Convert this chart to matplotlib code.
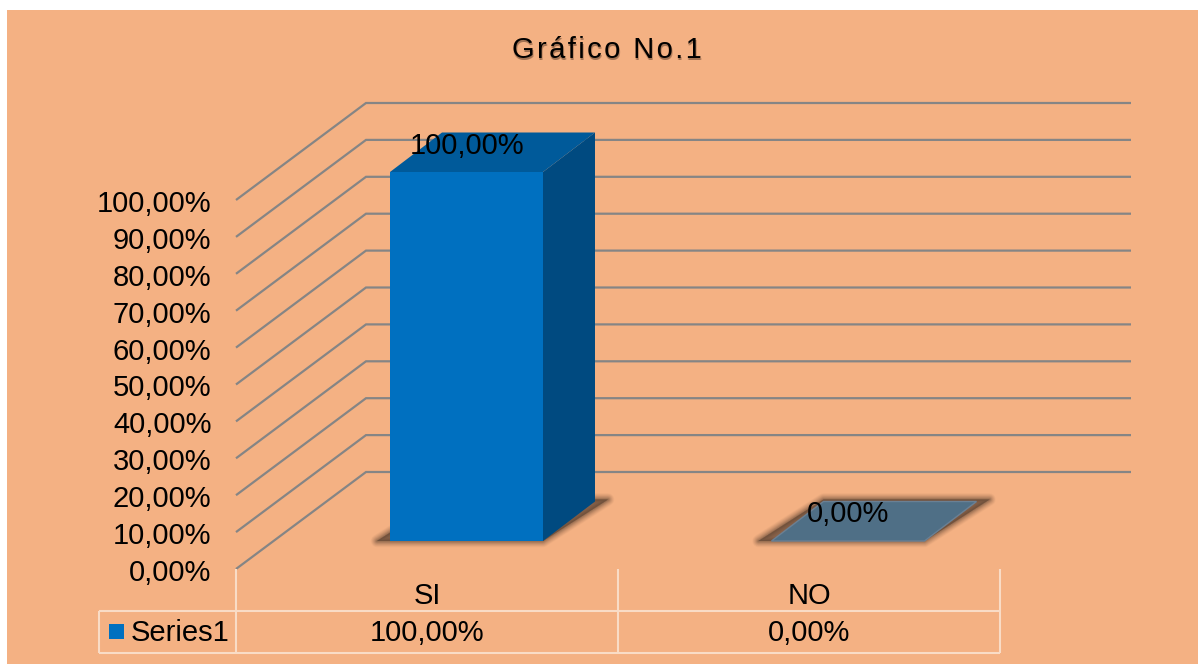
import matplotlib
matplotlib.use("Agg")
import matplotlib.pyplot as plt
from matplotlib.patches import Polygon, Rectangle

plt.rcParams['font.family'] = ['Liberation Sans', 'DejaVu Sans']

# ---- data ----
categories = ["SI", "NO"]
series_name = "Series1"
values = [100.0, 0.0]
value_labels = ["100,00%", "0,00%"]
y_ticks = [0, 10, 20, 30, 40, 50, 60, 70, 80, 90, 100]
y_tick_labels = ["0,00%", "10,00%", "20,00%", "30,00%", "40,00%", "50,00%",
                 "60,00%", "70,00%", "80,00%", "90,00%", "100,00%"]
title = "Gráfico No.1"

# ---- scales (pixels per data unit) ----
W, H = 1198, 664
PX_X = 381.5        # pixels per category
PX_Y = 3.69         # pixels per percent
X0_PX, Y0_PX = 427.5, 569.0   # pixel of category 0 / value 0 on the front plane

BG = "#F4B183"
GRID = "#858585"
TABLE = "#F9DCC6"
FS = 21

def dx(px):
    return px / PX_X

def dy(px):
    return px / PX_Y

fig = plt.figure(figsize=(W / 100, H / 100), dpi=100, facecolor="white")
ax = fig.add_axes([0, 0, 1, 1])
ax.set_xlim(-X0_PX / PX_X, (W - X0_PX) / PX_X)
ax.set_ylim(-(H - Y0_PX) / PX_Y, Y0_PX / PX_Y)
ax.axis("off")

def xp(px):   # pixel x -> data x
    return (px - X0_PX) / PX_X

def yp(py):   # pixel y -> data y
    return (Y0_PX - py) / PX_Y

# chart background with the white margin of the picture
ax.add_patch(Rectangle((xp(7), yp(664)), dx(1191), dy(654), fc=BG, ec="none", zorder=0))

# oblique gridlines
back_dx, back_dy = dx(130), dy(97)
x_left = xp(236)
x_right = xp(1131)
for t, lab in zip(y_ticks, y_tick_labels):
    ax.plot([x_left, x_left + back_dx, x_right], [t, t + back_dy, t + back_dy],
            color=GRID, lw=1.6, zorder=1, solid_joinstyle="miter", solid_capstyle="butt")
    ax.text(xp(211.5), t - dy(12), lab, ha="right", va="baseline",
            fontsize=FS, color="#000000", zorder=6)

# bars
bar_w = dx(153)
off_x, off_y = dx(39), dy(28)    # bar front plane offset in depth
dep_x, dep_y = dx(52), dy(39.5)  # bar depth

for i, v in enumerate(values):
    cx = i + off_x
    l, r = cx - bar_w / 2, cx + bar_w / 2
    b = off_y
    t = v + off_y
    floor = [(l, b), (r, b), (r + dep_x, b + dep_y), (l + dep_x, b + dep_y)]
    shadow = [(l - dx(13), b), (r, b), (r + dep_x + dx(13), b + dep_y + dy(2)), (l + dep_x, b + dep_y + dy(2))]
    widths = [9, 8, 7, 6, 5, 4, 3, 2, 1, 0]
    alphas = [0.04, 0.05, 0.06, 0.07, 0.08, 0.10, 0.12, 0.14, 0.16, 0.20]
    for w, a in zip(widths, alphas):
        ax.add_patch(Polygon(shadow, closed=True, fc="#5F4534", ec="#5F4534", lw=w, alpha=a,
                             joinstyle="round", zorder=2))
    if v > 0:
        ax.add_patch(Rectangle((l, b), bar_w, t - b, fc="#0070C0", ec="none", zorder=4))
        ax.add_patch(Polygon([(r, b), (r + dep_x, b + dep_y), (r + dep_x, t + dep_y), (r, t)],
                             closed=True, fc="#004A80", ec="none", zorder=4))
        ax.add_patch(Polygon([(l, t), (r, t), (r + dep_x, t + dep_y), (l + dep_x, t + dep_y)],
                             closed=True, fc="#005A9A", ec="none", zorder=4))
    else:
        ax.add_patch(Polygon(floor, closed=True, fc="#4F6F86", ec="#6A8094", lw=1, zorder=4))

# data labels
label_px = [(467, 146), (848, 513.5)]
for s, (px, py) in zip(value_labels, label_px):
    ax.text(xp(px), yp(py), s, ha="center", va="center", fontsize=FS, color="#000000", zorder=7)

# data table
tl = dict(color=TABLE, lw=1.5, zorder=3, solid_capstyle="butt")
for px in (236, 618, 1000):
    ax.plot([xp(px), xp(px)], [yp(569), yp(653)], **tl)
ax.plot([xp(99), xp(99)], [yp(611), yp(653)], **tl)
for py in (611, 653):
    ax.plot([xp(99), xp(1000)], [yp(py), yp(py)], **tl)
for i, c in enumerate(categories):
    ax.text(i, yp(596), c, ha="center", va="center", fontsize=FS, color="#000000")
    ax.text(i, yp(633), value_labels[i], ha="center", va="center", fontsize=FS, color="#000000")
ax.add_patch(Rectangle((xp(109), yp(639)), dx(15), dy(15), fc="#0070C0", ec="none", zorder=5))
ax.text(xp(131), yp(633), series_name, ha="left", va="center", fontsize=FS, color="#000000")

# title, letter spaced, with a soft shadow
spaced = "\u200a".join(title)
title_y = 50.5
for ox, oy, a in [(1.5, 2, 0.15), (1, 1.5, 0.2), (0.5, 1, 0.25)]:
    ax.text(xp(606.5 + ox), yp(title_y + oy), spaced, ha="center", va="center",
            fontsize=FS, color="#4A3020", alpha=a, zorder=6)
ax.text(xp(606.5), yp(title_y), spaced, ha="center", va="center",
        fontsize=FS, color="#000000", zorder=7)

fig.savefig("out.png", dpi=100, facecolor="white")
